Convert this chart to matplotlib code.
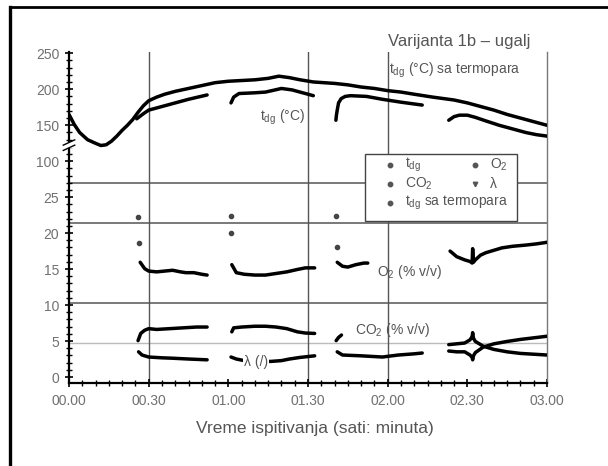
import matplotlib.pyplot as plt
import numpy as np
from matplotlib.ticker import FixedLocator, MultipleLocator
from matplotlib.lines import Line2D

plt.rcParams['font.family'] = ['Liberation Sans', 'DejaVu Sans']
plt.rcParams['mathtext.default'] = 'regular'

nan = np.nan

# t_dg sa termopara (minute, °C)
termo_min = [0, 2, 4, 7, 10, 12, 14, 16, 18, 20, 22, 24, 26, 28, 30, 33, 36, 40, 45, 50,
             55, 60, 65, 70, 75, 79, 83, 87, 92, 100, 105, 110, 115, 120, 125, 130, 137,
             145, 150, 155, 160, 165, 170, 175, 180]
termo_t = [164, 150, 139, 129, 124, 121, 122, 127, 134, 142, 149, 157, 167, 176, 183, 188,
           192, 196, 200, 204, 208, 210, 211, 212, 214, 217, 215, 212, 209, 207, 205, 202,
           200, 197, 195, 192, 188, 184, 180, 175, 170, 164, 159, 154, 149]

# t_dg (°C), segmenti razdvojeni sa nan
tdg_min = [25.5, 28, 30, 35, 40, 45, 52, nan,
           61, 62, 64, 70, 74, 80, 84, 87, 92, nan,
           100.5, 100.7, 101, 101.5, 102.5, 104, 106, 112, 118, 125, 133, nan,
           143, 145, 147, 150, 153, 157, 162, 167, 172, 176, 180]
tdg_t = [158, 165, 170, 175, 180, 185, 191, nan,
         180, 188, 193, 194, 195, 200, 198, 195, 190, nan,
         156, 163, 170, 180, 186, 189, 190, 189, 185, 181, 177, nan,
         156, 161, 163, 163, 160, 155, 149, 144, 139, 136, 134]

# O2 (% v/v)
o2_min = [26.8, 28.5, 30, 33, 36, 39, 42, 44, 47, 50, 52, nan,
          61.3, 63, 66, 70, 74, 78, 82, 86, 89, 92.5, nan,
          101, 103, 105, 108, 111, 112.5, nan,
          143.5, 146, 149, 151, 151.8, 152, 152.3, 153, 155, 157, 160, 163, 167, 172, 176, 180]
o2_val = [15.1, 14.3, 14.0, 13.9, 14.0, 14.1, 13.9, 13.8, 13.8, 13.6, 13.5, nan,
          14.8, 13.8, 13.6, 13.5, 13.5, 13.7, 13.9, 14.2, 14.4, 14.4, nan,
          15.1, 14.6, 14.5, 14.8, 15.0, 15.0, nan,
          16.5, 15.8, 15.4, 15.2, 15.0, 16.8, 15.1, 15.4, 16.0, 16.3, 16.6, 16.9, 17.1, 17.25,
          17.4, 17.6]
# pojedinacne tacke O2 na pocetku merenja
o2_dot_min = [26, 26.4, 61, 61, 100.6, 100.8]
o2_dot_val = [20.75, 17.5, 20.9, 18.75, 20.9, 17.0]

# CO2 (% v/v)
co2_min = [26, 27, 28.5, 30, 33, 38, 43, 48, 52, nan,
           61.3, 62, 65, 70, 74, 78, 82, 86, 89, 92.5, nan,
           100.6, 101.5, 102.6, nan,
           143, 146, 149, 151, 151.8, 152, 152.3, 153, 156, 160, 165, 170, 175, 180]
co2_val = [5.3, 6.2, 6.6, 6.8, 6.7, 6.8, 6.9, 7.0, 7.0, nan,
           6.4, 6.9, 7.0, 7.1, 7.1, 7.0, 6.8, 6.4, 6.25, 6.2, nan,
           5.3, 5.7, 6.0, nan,
           4.8, 4.9, 5.0, 5.4, 5.8, 6.3, 5.6, 5.2, 4.6, 4.2, 3.9, 3.7, 3.6, 3.5]

# lambda (/)
lam_min = [26.2, 27.5, 30, 35, 39, 45, 52, nan,
           61, 63, 66, 70, 74, 76, 80, 83, 87, 92.5, nan,
           101, 103, 110, 118, 124, 130, 133, nan,
           143, 146, 149, 151, 151.8, 152, 152.3, 153, 156, 160, 165, 170, 175, 180]
lam_val = [3.9, 3.5, 3.25, 3.15, 3.1, 3.0, 2.9, nan,
           3.25, 3.0, 2.8, 2.7, 2.7, 2.7, 2.8, 3.0, 3.2, 3.4, nan,
           3.9, 3.5, 3.4, 3.25, 3.5, 3.65, 3.75, nan,
           4.0, 3.9, 3.9, 3.5, 3.2, 2.9, 3.4, 3.8, 4.5, 4.9, 5.2, 5.45, 5.65, 5.85]

ytick_labels = ['0', '5', '10', '15', '20', '25', '100', '150', '200', '250']
xtick_labels = ['00.00', '00.30', '01.00', '01.30', '02.00', '02.30', '03.00']


def t_to_u(t):
    # gornji deo ose (temperatura) preslikan iznad prekida
    return 27.81 + (np.asarray(t, dtype=float) - 100) * 0.0903


fig = plt.figure(figsize=(6.08, 4.66), dpi=100)
ax = fig.add_axes([0.1135, 0.1781, 0.7862, 0.7103])

gray_txt = '#555555'
gray_tick = '#707070'

# linije mreze
for yv, c, lw in [(25, '#555555', 1.1), (20, '#555555', 1.1), (10, '#555555', 1.1),
                  (5, '#bbbbbb', 1.0)]:
    ax.axhline(yv, color=c, lw=lw, zorder=1)
for xv in [30, 90, 120]:
    ax.axvline(xv, color='#555555', lw=1.0, zorder=1)

kw = dict(color='black', lw=2.5, solid_capstyle='round', solid_joinstyle='round', zorder=3)
ax.plot(termo_min, t_to_u(termo_t), **kw)
ax.plot(tdg_min, t_to_u(tdg_t), **kw)
ax.plot(o2_min, o2_val, **kw)
ax.plot(co2_min, co2_val, **kw)
ax.plot(lam_min, lam_val, **kw)
ax.plot(o2_dot_min, o2_dot_val, 'o', color='#444444', ms=3, zorder=3)

ax.set_xlim(0, 180)
ax.set_ylim(0, 41.4)

ax.xaxis.set_major_locator(FixedLocator(list(range(0, 181, 30))))
ax.xaxis.set_minor_locator(MultipleLocator(5))
ax.set_xticklabels(xtick_labels)
ax.yaxis.set_major_locator(FixedLocator([0.75 + 4.5 * k for k in range(10)]))
ax.yaxis.set_minor_locator(MultipleLocator(0.9, offset=0.75))
ax.set_yticklabels(ytick_labels)

ax.tick_params(axis='both', which='major', labelsize=10, labelcolor=gray_tick,
               direction='inout', length=6, width=1.2)
ax.tick_params(axis='both', which='minor', direction='inout', length=4, width=1.0)
ax.tick_params(axis='x', which='major', pad=5)
ax.tick_params(axis='y', which='major', pad=4)

ax.spines['top'].set_visible(False)
ax.spines['right'].set_color('#777777')
ax.spines['right'].set_linewidth(1.0)
ax.spines['left'].set_linewidth(1.6)
ax.spines['bottom'].set_linewidth(1.6)

# prekid ose
yb = 29.75 / 41.4
ax.add_patch(plt.Rectangle((-0.008, yb - 0.01), 0.016, 0.02, transform=ax.transAxes,
                           facecolor='white', edgecolor='none', clip_on=False, zorder=5))
for dy in (-0.008, 0.008):
    ax.plot([-0.012, 0.012], [yb + dy - 0.008, yb + dy + 0.008], transform=ax.transAxes,
            color='black', lw=1.0, clip_on=False, zorder=6)

# natpisi
tfs = 10
ax.text(145.3, 39.1, 't$_{dg}$ (°C) sa termopara', fontsize=tfs, color=gray_txt,
        ha='center', va='center')
ax.text(80.4, 33.25, 't$_{dg}$ (°C)', fontsize=tfs, color=gray_txt, ha='center', va='center')
ax.text(128.3, 13.9, 'O$_2$ (% v/v)', fontsize=tfs, color=gray_txt, ha='center', va='center')
ax.text(121.9, 6.6, 'CO$_2$ (% v/v)', fontsize=tfs, color=gray_txt, ha='center', va='center')
ax.text(70.5, 2.6, 'λ (/)', fontsize=tfs, color=gray_txt, ha='center', va='center', zorder=6,
        bbox=dict(facecolor='white', edgecolor='none', pad=0.5))

# legenda
ax.add_patch(plt.Rectangle((0.619, 0.489), 0.318, 0.203, transform=ax.transAxes,
                           facecolor='white', edgecolor='#444444', lw=1.0, zorder=7))
leg_items = [(0.672, 0.659, 'o', 't$_{dg}$'), (0.672, 0.601, 'o', 'CO$_2$'),
             (0.672, 0.544, 'o', 't$_{dg}$ sa termopara'), (0.849, 0.659, 'o', 'O$_2$'),
             (0.849, 0.601, 'v', 'λ')]
for lx, ly, mk, txt in leg_items:
    ax.plot([lx], [ly], mk, color='#555555', ms=3.2, transform=ax.transAxes, zorder=8,
            clip_on=False)
    ax.text(lx + 0.031, ly, txt, fontsize=tfs, color=gray_txt, ha='left', va='center',
            transform=ax.transAxes, zorder=8)

fig.text(0.755, 0.91, 'Varijanta 1b – ugalj', fontsize=12, color=gray_txt,
         ha='center', va='center')
fig.text(0.518, 0.0815, 'Vreme ispitivanja (sati: minuta)', fontsize=12.5, color=gray_txt,
         ha='center', va='center')

# okvir slike
fig.add_artist(Line2D([10 / 608, 10 / 608], [0, 1 - 7 / 466], color='black', lw=2.4))
fig.add_artist(Line2D([10 / 608, 1], [1 - 7 / 466, 1 - 7 / 466], color='black', lw=2.0))

fig.savefig('out.png', dpi=100)
